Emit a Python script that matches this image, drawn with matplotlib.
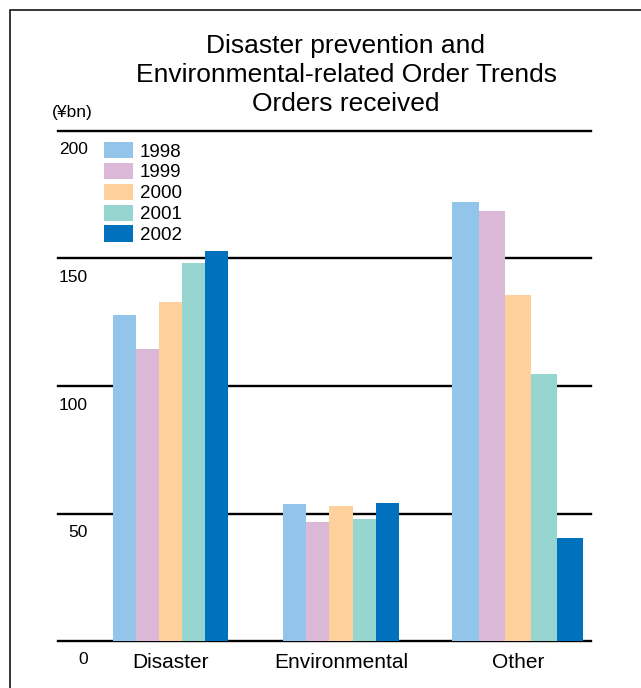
import numpy as np
import matplotlib
matplotlib.use('Agg')
import matplotlib.pyplot as plt
from matplotlib.patches import Rectangle
import matplotlib.transforms as mtransforms

# data (¥bn)
categories = ['Disaster', 'Environmental', 'Other']
years = ['1998', '1999', '2000', '2001', '2002']
orders_1998 = [128.0, 53.7, 172.1]
orders_1999 = [114.6, 46.8, 168.8]
orders_2000 = [132.8, 53.0, 135.5]
orders_2001 = [148.1, 47.9, 104.7]
orders_2002 = [153.0, 54.2, 40.3]
y_ticks = [0, 50, 100, 150, 200]

series = [orders_1998, orders_1999, orders_2000, orders_2001, orders_2002]
colors = ['#93c5ea', '#dbb8d8', '#fdd09c', '#97d5d0', '#0071bc']

plt.rcParams['font.family'] = ['Liberation Sans', 'DejaVu Sans']

W, H = 641, 688
fig = plt.figure(figsize=(W / 100, H / 100), dpi=100)

# outer frame (right/bottom edges run off the picture)
fig.patches.append(Rectangle((10 / W, -0.1), 1.2, 1 - 10 / H + 0.1,
                             transform=fig.transFigure, fill=False,
                             edgecolor='black', linewidth=1.1))

ax = fig.add_axes([58 / W, (H - 641) / H, (591 - 58) / W, (641 - 131) / H])

# group layout
group_pos = np.array([0.0, 1.0, 2.035])
bar_w = np.array([0.135, 0.135, 0.153])

for i, (vals, col, yr) in enumerate(zip(series, colors, years)):
    xs = group_pos + (i - 2) * bar_w
    ax.bar(xs, vals, width=bar_w, color=col, label=yr, zorder=2, linewidth=0)

for t in y_ticks:
    ax.axhline(t, color='black', linewidth=1.7, zorder=1, clip_on=False)

ax.set_xlim(-0.657, 2.464)
ax.set_ylim(0, 200)
for s in ax.spines.values():
    s.set_visible(False)
ax.set_xticks([])
ax.set_yticks([])
ax.patch.set_visible(False)

# y labels sit below their gridlines
below = mtransforms.ScaledTranslation(0, -19 / 100, fig.dpi_scale_trans)
trans_y = mtransforms.blended_transform_factory(ax.transAxes, ax.transData) + below
for t in y_ticks:
    ax.text((88 - 58) / (591 - 58), t, str(t), transform=trans_y,
            ha='right', va='center', fontsize=12.5)

# category labels
cat_off = mtransforms.ScaledTranslation(0, -22 / 100, fig.dpi_scale_trans)
for x, c in zip(group_pos, categories):
    ax.text(x, 0, c, transform=ax.transData + cat_off,
            ha='center', va='center', fontsize=15)

fig.text(52 / W, 1 - 113 / H, '(¥bn)', ha='left', va='center', fontsize=12.5)

fig.text(346 / W, 1 - 75 / H,
         'Disaster prevention and\nEnvironmental-related Order Trends\nOrders received',
         ha='center', va='center', fontsize=19, linespacing=1.25)

leg = ax.legend(loc='upper left', bbox_to_anchor=(104 / W, 1 - 142 / H),
                bbox_transform=fig.transFigure, frameon=False, fontsize=13.5,
                handlelength=1.55, handleheight=0.96, handletextpad=0.37,
                labelspacing=0.12, borderpad=0, borderaxespad=0)
for h in leg.legend_handles:
    h.set_linewidth(0)

fig.savefig('out.png', dpi=100)
